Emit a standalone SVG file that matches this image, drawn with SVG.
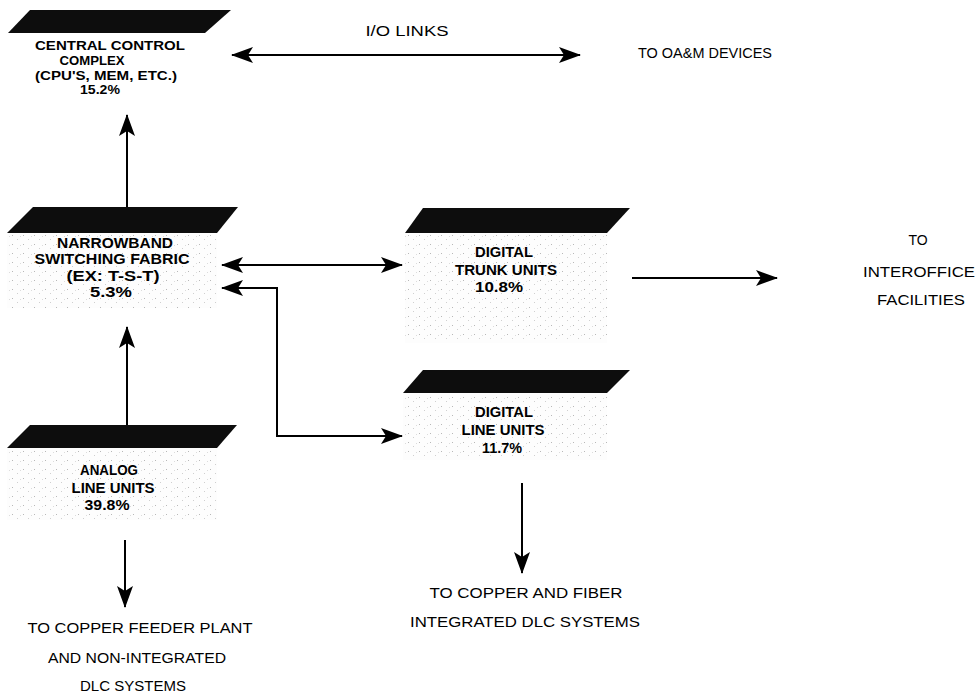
<svg xmlns="http://www.w3.org/2000/svg" width="978" height="694" viewBox="0 0 978 694">
<style>
.bar{fill:#0d0d0d}
.body{fill:url(#stip)}
.lb{font-family:"Liberation Sans",Arial,sans-serif;font-weight:bold;font-size:14px;fill:#000;text-anchor:middle}
.sm{font-size:13px}
.tx{font-family:"Liberation Sans",Arial,sans-serif;font-size:14px;fill:#000;text-anchor:middle}
.ln{fill:none;stroke:#000;stroke-width:2}
</style>
<defs>
<pattern id="stip" width="11" height="9" patternUnits="userSpaceOnUse">
<rect width="11" height="9" fill="#fdfdfd"/>
<rect x="1" y="1" width="1" height="1" fill="#b8b8b8"/>
<rect x="6" y="5" width="1" height="1" fill="#cfcfcf"/>
<rect x="9" y="2" width="1" height="1" fill="#dcdcdc"/>
</pattern>
<marker id="ah" viewBox="0 0 22 16" refX="21" refY="8" markerWidth="22" markerHeight="16" markerUnits="userSpaceOnUse" orient="auto-start-reverse">
<path d="M0,0 L22,8 L0,16 L5,8 Z" fill="#000"/>
</marker>
</defs>
<rect width="978" height="694" fill="#fff"/>

<g id="central-control">
<polygon class="bar" points="30,10 231,10 205,33 8,33"/>
<text class="lb sm" x="110" y="50" textLength="150" lengthAdjust="spacingAndGlyphs">CENTRAL CONTROL</text>
<text class="lb sm" x="92" y="64.5" textLength="65" lengthAdjust="spacingAndGlyphs">COMPLEX</text>
<text class="lb sm" x="106" y="79.5" textLength="142" lengthAdjust="spacingAndGlyphs">(CPU'S, MEM, ETC.)</text>
<text class="lb sm" x="100" y="94" textLength="40" lengthAdjust="spacingAndGlyphs">15.2%</text>
</g>

<g id="narrowband">
<rect class="body" x="7" y="233" width="210" height="75"/>
<polygon class="bar" points="33,207 238,207 217,233 7,233"/>
<text class="lb" x="115" y="248" textLength="116" lengthAdjust="spacingAndGlyphs">NARROWBAND</text>
<text class="lb" x="112" y="264" textLength="155" lengthAdjust="spacingAndGlyphs">SWITCHING FABRIC</text>
<text class="lb" x="113" y="281" textLength="93" lengthAdjust="spacingAndGlyphs">(EX: T-S-T)</text>
<text class="lb" x="111" y="297" textLength="42" lengthAdjust="spacingAndGlyphs">5.3%</text>
</g>

<g id="digital-trunk">
<rect class="body" x="405" y="233" width="202" height="110"/>
<polygon class="bar" points="423,208 630,208 607,233 405,233"/>
<text class="lb" x="504" y="257" textLength="58" lengthAdjust="spacingAndGlyphs">DIGITAL</text>
<text class="lb" x="506" y="275" textLength="102" lengthAdjust="spacingAndGlyphs">TRUNK UNITS</text>
<text class="lb" x="499" y="292" textLength="48" lengthAdjust="spacingAndGlyphs">10.8%</text>
</g>

<g id="digital-line">
<rect class="body" x="403" y="393" width="204" height="67"/>
<polygon class="bar" points="423,370 630,370 607,393 403,393"/>
<text class="lb" x="504" y="417" textLength="58" lengthAdjust="spacingAndGlyphs">DIGITAL</text>
<text class="lb" x="503" y="435" textLength="83" lengthAdjust="spacingAndGlyphs">LINE UNITS</text>
<text class="lb" x="502" y="453" textLength="40" lengthAdjust="spacingAndGlyphs">11.7%</text>
</g>

<g id="analog-line">
<rect class="body" x="7" y="448" width="210" height="72"/>
<polygon class="bar" points="30,425 237,425 217,448 7,448"/>
<text class="lb" x="109" y="475" textLength="58" lengthAdjust="spacingAndGlyphs">ANALOG</text>
<text class="lb" x="113" y="493" textLength="83" lengthAdjust="spacingAndGlyphs">LINE UNITS</text>
<text class="lb" x="107" y="510" textLength="45" lengthAdjust="spacingAndGlyphs">39.8%</text>
</g>

<g id="labels">
<text class="tx" x="407" y="36" font-size="13" textLength="83" lengthAdjust="spacingAndGlyphs">I/O LINKS</text>
<text class="tx" x="705" y="58" textLength="134" lengthAdjust="spacingAndGlyphs">TO OA&amp;M DEVICES</text>
<text class="tx" x="918" y="245">TO</text>
<text class="tx" x="919" y="277" textLength="112" lengthAdjust="spacingAndGlyphs">INTEROFFICE</text>
<text class="tx" x="921" y="305" textLength="88" lengthAdjust="spacingAndGlyphs">FACILITIES</text>
<text class="tx" x="140" y="633" textLength="225" lengthAdjust="spacingAndGlyphs">TO COPPER FEEDER PLANT</text>
<text class="tx" x="137" y="663" textLength="178" lengthAdjust="spacingAndGlyphs">AND NON-INTEGRATED</text>
<text class="tx" x="133" y="691" textLength="106" lengthAdjust="spacingAndGlyphs">DLC SYSTEMS</text>
<text class="tx" x="526" y="598" textLength="193" lengthAdjust="spacingAndGlyphs">TO COPPER AND FIBER</text>
<text class="tx" x="525" y="627" textLength="230" lengthAdjust="spacingAndGlyphs">INTEGRATED DLC SYSTEMS</text>
</g>

<g id="connectors">
<line class="ln" x1="232" y1="55" x2="580" y2="55" marker-start="url(#ah)" marker-end="url(#ah)"/>
<line class="ln" x1="127" y1="207" x2="127" y2="115" marker-end="url(#ah)"/>
<line class="ln" x1="222" y1="265" x2="402" y2="265" marker-start="url(#ah)" marker-end="url(#ah)"/>
<polyline class="ln" points="222,288 277,288 277,436 402,436" marker-start="url(#ah)" marker-end="url(#ah)"/>
<line class="ln" x1="632" y1="278" x2="777" y2="278" marker-end="url(#ah)"/>
<line class="ln" x1="127" y1="425" x2="127" y2="327" marker-end="url(#ah)"/>
<line class="ln" x1="125" y1="540" x2="125" y2="607" marker-end="url(#ah)"/>
<line class="ln" x1="522" y1="483" x2="522" y2="573" marker-end="url(#ah)"/>
</g>
</svg>
